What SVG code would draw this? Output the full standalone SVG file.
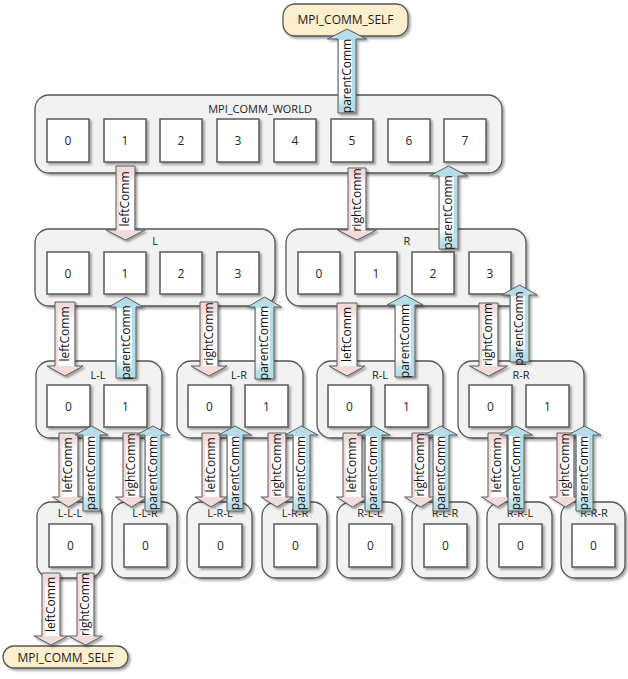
<svg xmlns="http://www.w3.org/2000/svg" width="628" height="679" viewBox="0 0 628 679">
<defs>
<filter id="sh" x="-20%" y="-20%" width="140%" height="140%"><feDropShadow dx="2" dy="2" stdDeviation="1.3" flood-color="#000" flood-opacity="0.35"/></filter>
<linearGradient id="wd" x1="0" y1="0" x2="0" y2="1"><stop offset="0" stop-color="#fff" stop-opacity="0"/><stop offset="0.2" stop-color="#fff" stop-opacity="0.95"/><stop offset="1" stop-color="#fff" stop-opacity="0.95"/></linearGradient>
<linearGradient id="wu" x1="0" y1="1" x2="0" y2="0"><stop offset="0" stop-color="#fff" stop-opacity="0"/><stop offset="0.2" stop-color="#fff" stop-opacity="0.95"/><stop offset="1" stop-color="#fff" stop-opacity="0.95"/></linearGradient>
<style>
.box{fill:#f2f2f2;stroke:#555;stroke-width:1.3;filter:url(#sh)}
.sq{fill:#fff;stroke:#5a5a5a;stroke-width:1.5;filter:url(#sh)}
.pill{fill:#fcefd0;stroke:#555;stroke-width:1.3;filter:url(#sh)}
.t{font-family:"Open Sans","Liberation Sans",sans-serif;font-size:11px;fill:#1a1a1a;text-anchor:middle}
.n{font-family:"Open Sans","Liberation Sans",sans-serif;font-size:12px;fill:#262626;text-anchor:middle;dominant-baseline:central}
.dn{fill:#f2dcdb;stroke:#5a5a5a;stroke-width:1;filter:url(#sh)}
.up{fill:#b7dee8;stroke:#5a5a5a;stroke-width:1;filter:url(#sh)}
.wd{fill:url(#wd)}
.wu{fill:url(#wu)}
.al{font-family:"Open Sans","Liberation Sans",sans-serif;font-size:12px;fill:#111;text-anchor:middle;dominant-baseline:central}
</style>
</defs>
<rect width="628" height="679" fill="#fff"/>

<g id="self-top"><rect class="pill" x="283" y="4" width="125" height="32" rx="12"/><text class="t" x="345.5" y="24" style="font-size:12px">MPI_COMM_SELF</text></g>

<g id="world">
<rect class="box" x="35" y="95" width="467" height="78" rx="14"/>
<text class="t" x="260" y="113">MPI_COMM_WORLD</text>
<rect class="sq" x="47" y="119" width="42" height="43"/><text class="n" x="68" y="140.5">0</text>
<rect class="sq" x="104" y="119" width="42" height="43"/><text class="n" x="125" y="140.5">1</text>
<rect class="sq" x="160" y="119" width="42" height="43"/><text class="n" x="181" y="140.5">2</text>
<rect class="sq" x="217" y="119" width="42" height="43"/><text class="n" x="238" y="140.5">3</text>
<rect class="sq" x="274" y="119" width="42" height="43"/><text class="n" x="295" y="140.5">4</text>
<rect class="sq" x="331" y="119" width="42" height="43"/><text class="n" x="352" y="140.5">5</text>
<rect class="sq" x="388" y="119" width="42" height="43"/><text class="n" x="409" y="140.5">6</text>
<rect class="sq" x="444" y="119" width="42" height="43"/><text class="n" x="465" y="140.5">7</text>
</g>

<g id="L">
<rect class="box" x="35" y="229" width="240" height="77" rx="14"/>
<text class="t" x="155" y="245">L</text>
<rect class="sq" x="47" y="252" width="42" height="42"/><text class="n" x="68" y="273">0</text>
<rect class="sq" x="104" y="252" width="42" height="42"/><text class="n" x="125" y="273">1</text>
<rect class="sq" x="160" y="252" width="42" height="42"/><text class="n" x="181" y="273">2</text>
<rect class="sq" x="217" y="252" width="42" height="42"/><text class="n" x="238" y="273">3</text>
</g>
<g id="R">
<rect class="box" x="286" y="229" width="240" height="77" rx="14"/>
<text class="t" x="407" y="245">R</text>
<rect class="sq" x="298" y="252" width="42" height="42"/><text class="n" x="319" y="273">0</text>
<rect class="sq" x="355" y="252" width="42" height="42"/><text class="n" x="376" y="273">1</text>
<rect class="sq" x="412" y="252" width="42" height="42"/><text class="n" x="433" y="273">2</text>
<rect class="sq" x="469" y="252" width="42" height="42"/><text class="n" x="490" y="273">3</text>
</g>

<g id="L-L"><rect class="box" x="36" y="361" width="126" height="77" rx="14"/><text class="t" x="98" y="379">L-L</text>
<rect class="sq" x="47" y="385" width="43" height="42"/><text class="n" x="68.5" y="406">0</text>
<rect class="sq" x="104" y="385" width="43" height="42"/><text class="n" x="125.5" y="406">1</text></g>
<g id="L-R"><rect class="box" x="177" y="361" width="126" height="77" rx="14"/><text class="t" x="239" y="379">L-R</text>
<rect class="sq" x="188" y="385" width="43" height="42"/><text class="n" x="209.5" y="406">0</text>
<rect class="sq" x="245" y="385" width="43" height="42"/><text class="n" x="266.5" y="406">1</text></g>
<g id="R-L"><rect class="box" x="317" y="361" width="126" height="77" rx="14"/><text class="t" x="380" y="379">R-L</text>
<rect class="sq" x="328" y="385" width="43" height="42"/><text class="n" x="349.5" y="406">0</text>
<rect class="sq" x="385" y="385" width="43" height="42"/><text class="n" x="406.5" y="406">1</text></g>
<g id="R-R"><rect class="box" x="458" y="361" width="126" height="77" rx="14"/><text class="t" x="521" y="379">R-R</text>
<rect class="sq" x="469" y="385" width="43" height="42"/><text class="n" x="490.5" y="406">0</text>
<rect class="sq" x="526" y="385" width="43" height="42"/><text class="n" x="547.5" y="406">1</text></g>

<g id="L-L-L"><rect class="box" x="37" y="502" width="65" height="76" rx="14"/><text class="t" x="70" y="517">L-L-L</text><rect class="sq" x="49" y="524" width="43" height="43"/><text class="n" x="70.5" y="545.5">0</text></g>
<g id="L-L-R"><rect class="box" x="112" y="502" width="65" height="76" rx="14"/><text class="t" x="145" y="517">L-L-R</text><rect class="sq" x="124" y="524" width="43" height="43"/><text class="n" x="145.5" y="545.5">0</text></g>
<g id="L-R-L"><rect class="box" x="187" y="502" width="65" height="76" rx="14"/><text class="t" x="220" y="517">L-R-L</text><rect class="sq" x="199" y="524" width="43" height="43"/><text class="n" x="220.5" y="545.5">0</text></g>
<g id="L-R-R"><rect class="box" x="262" y="502" width="65" height="76" rx="14"/><text class="t" x="295" y="517">L-R-R</text><rect class="sq" x="274" y="524" width="43" height="43"/><text class="n" x="295.5" y="545.5">0</text></g>
<g id="R-L-L"><rect class="box" x="337" y="502" width="65" height="76" rx="14"/><text class="t" x="370" y="517">R-L-L</text><rect class="sq" x="349" y="524" width="43" height="43"/><text class="n" x="370.5" y="545.5">0</text></g>
<g id="R-L-R"><rect class="box" x="412" y="502" width="65" height="76" rx="14"/><text class="t" x="445" y="517">R-L-R</text><rect class="sq" x="424" y="524" width="43" height="43"/><text class="n" x="445.5" y="545.5">0</text></g>
<g id="R-R-L"><rect class="box" x="487" y="502" width="65" height="76" rx="14"/><text class="t" x="520" y="517">R-R-L</text><rect class="sq" x="499" y="524" width="43" height="43"/><text class="n" x="520.5" y="545.5">0</text></g>
<g id="R-R-R"><rect class="box" x="561" y="502" width="64" height="76" rx="14"/><text class="t" x="594" y="517">R-R-R</text><rect class="sq" x="572" y="524" width="43" height="43"/><text class="n" x="593.5" y="545.5">0</text></g>

<g id="self-bottom"><rect class="pill" x="3" y="646" width="125" height="22" rx="11"/><text class="t" x="65.5" y="661.5" style="font-size:12px">MPI_COMM_SELF</text></g>

<g id="connectors">
<!-- level 1 -->
<path class="up" d="M338 113 V39 H327.5 L347 29 L366.5 39 H356 V113 Z"/><rect class="wu" x="339" y="40" width="13" height="67"/><text class="al" transform="translate(346,76) rotate(-90)">parentComm</text>
<path class="dn" d="M116 166 H135 V230 H145 L125.5 240 L106 230 H116 Z"/><rect class="wd" x="119" y="172" width="15" height="58"/><text class="al" transform="translate(124.5,199) rotate(-90)">leftComm</text>
<path class="dn" d="M348 168 H366 V230 H376.5 L357 240 L337.5 230 H348 Z"/><rect class="wd" x="351" y="174" width="14" height="56"/><text class="al" transform="translate(356,200) rotate(-90)">rightComm</text>
<path class="up" d="M439 249 V176 H429.5 L448.5 166 L467.5 176 H458 V249 Z"/><rect class="wu" x="440" y="177" width="14" height="66"/><text class="al" transform="translate(447.5,212.5) rotate(-90)">parentComm</text>
<!-- level 2 -->
<path class="dn" d="M55 302 H75 V366 H83 L65 376 L47 366 H55 Z"/><rect class="wd" x="58" y="308" width="16" height="58"/><text class="al" transform="translate(64,334) rotate(-90)">leftComm</text>
<path class="up" d="M116 378 V307 H109 L126 297 L143 307 H136 V378 Z"/><rect class="wu" x="117" y="308" width="15" height="64"/><text class="al" transform="translate(125,342.5) rotate(-90)">parentComm</text>
<path class="dn" d="M200 302 H218 V366 H227 L209 376 L191 366 H200 Z"/><rect class="wd" x="203" y="308" width="14" height="58"/><text class="al" transform="translate(208,334) rotate(-90)">rightComm</text>
<path class="up" d="M255 379 V307 H247.5 L264.5 297 L281.5 307 H274 V379 Z"/><rect class="wu" x="256" y="308" width="14" height="65"/><text class="al" transform="translate(263.5,343) rotate(-90)">parentComm</text>
<path class="dn" d="M337 303 H357 V366 H365 L347 376 L329 366 H337 Z"/><rect class="wd" x="340" y="309" width="16" height="57"/><text class="al" transform="translate(346,334.5) rotate(-90)">leftComm</text>
<path class="up" d="M395 377 V305 H387 L405 295 L423 305 H415 V377 Z"/><rect class="wu" x="396" y="306" width="15" height="65"/><text class="al" transform="translate(404,341) rotate(-90)">parentComm</text>
<path class="dn" d="M479 303 H498 V366 H507.5 L488.5 376 L469.5 366 H479 Z"/><rect class="wd" x="482" y="309" width="15" height="57"/><text class="al" transform="translate(487.5,334.5) rotate(-90)">rightComm</text>
<path class="up" d="M510 362 V295 H501.5 L519.5 285 L537.5 295 H529 V362 Z"/><rect class="wu" x="511" y="296" width="14" height="60"/><text class="al" transform="translate(518.5,328.5) rotate(-90)">parentComm</text>
<!-- level 3 -->
<path class="dn" d="M59 433 H78 V497 H84.5 L68.5 507 L52.5 497 H59 Z"/><rect class="wd" x="62" y="439" width="15" height="58"/><text class="al" transform="translate(67.5,465) rotate(-90)">leftComm</text>
<path class="up" d="M83 511 V435 H75 L91.5 426 L108 435 H100 V511 Z"/><rect class="wu" x="84" y="436" width="12" height="69"/><text class="al" transform="translate(90.5,473) rotate(-90)">parentComm</text>
<path class="dn" d="M123 433 H140 V497 H147.5 L131.5 507 L115.5 497 H123 Z"/><rect class="wd" x="126" y="439" width="13" height="58"/><text class="al" transform="translate(130.5,465) rotate(-90)">rightComm</text>
<path class="up" d="M145 511 V435 H136.5 L153 426 L169.5 435 H161 V511 Z"/><rect class="wu" x="146" y="436" width="11" height="69"/><text class="al" transform="translate(152,473) rotate(-90)">parentComm</text>

<path class="dn" d="M202 433 H220 V497 H227 L211 507 L195 497 H202 Z"/><rect class="wd" x="205" y="439" width="14" height="58"/><text class="al" transform="translate(210,465) rotate(-90)">leftComm</text>
<path class="up" d="M227 511 V435 H218.5 L235 426 L251.5 435 H243 V511 Z"/><rect class="wu" x="228" y="436" width="11" height="69"/><text class="al" transform="translate(234,473) rotate(-90)">parentComm</text>
<path class="dn" d="M268 433 H286 V497 H293 L277 507 L261 497 H268 Z"/><rect class="wd" x="271" y="439" width="14" height="58"/><text class="al" transform="translate(276,465) rotate(-90)">rightComm</text>
<path class="up" d="M293 511 V435 H285 L301.5 426 L318 435 H310 V511 Z"/><rect class="wu" x="294" y="436" width="12" height="69"/><text class="al" transform="translate(300.5,473) rotate(-90)">parentComm</text>

<path class="dn" d="M343 433 H362 V497 H368.5 L352.5 507 L336.5 497 H343 Z"/><rect class="wd" x="346" y="439" width="15" height="58"/><text class="al" transform="translate(351.5,465) rotate(-90)">leftComm</text>
<path class="up" d="M365 511 V435 H357 L373.5 426 L390 435 H382 V511 Z"/><rect class="wu" x="366" y="436" width="12" height="69"/><text class="al" transform="translate(372.5,473) rotate(-90)">parentComm</text>
<path class="dn" d="M412 433 H429 V497 H436.5 L420.5 507 L404.5 497 H412 Z"/><rect class="wd" x="415" y="439" width="13" height="58"/><text class="al" transform="translate(419.5,465) rotate(-90)">rightComm</text>
<path class="up" d="M433 511 V435 H424.5 L441 426 L457.5 435 H449 V511 Z"/><rect class="wu" x="434" y="436" width="11" height="69"/><text class="al" transform="translate(440,473) rotate(-90)">parentComm</text>

<path class="dn" d="M488 433 H507 V497 H513.5 L497.5 507 L481.5 497 H488 Z"/><rect class="wd" x="491" y="439" width="15" height="58"/><text class="al" transform="translate(496.5,465) rotate(-90)">leftComm</text>
<path class="up" d="M508 511 V435 H499.5 L516 426 L532.5 435 H524 V511 Z"/><rect class="wu" x="509" y="436" width="11" height="69"/><text class="al" transform="translate(515,473) rotate(-90)">parentComm</text>
<path class="dn" d="M557 433 H574 V497 H581.5 L565.5 507 L549.5 497 H557 Z"/><rect class="wd" x="560" y="439" width="13" height="58"/><text class="al" transform="translate(564.5,465) rotate(-90)">rightComm</text>
<path class="up" d="M576 511 V435 H568 L584.5 426 L601 435 H593 V511 Z"/><rect class="wu" x="577" y="436" width="12" height="69"/><text class="al" transform="translate(583.5,473) rotate(-90)">parentComm</text>
<!-- bottom -->
<path class="dn" d="M42 573 H60 V636 H68 L51 645 L34 636 H42 Z"/><rect class="wd" x="45" y="579" width="14" height="57"/><text class="al" transform="translate(50,604.5) rotate(-90)">leftComm</text>
<path class="dn" d="M77 573 H94 V636 H102.5 L85.5 645 L68.5 636 H77 Z"/><rect class="wd" x="80" y="579" width="13" height="57"/><text class="al" transform="translate(84.5,604.5) rotate(-90)">rightComm</text>
</g>
</svg>
